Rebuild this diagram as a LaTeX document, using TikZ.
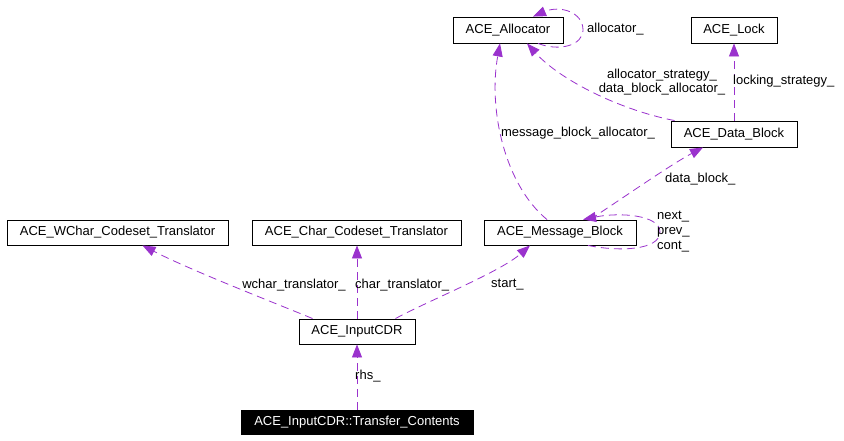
\documentclass[tikz,border=0pt]{standalone}
\usepackage{fontspec}
\setmainfont{Liberation Sans}
\usetikzlibrary{arrows.meta}
\definecolor{edgecol}{HTML}{9A32CD}
\begin{document}
\begin{tikzpicture}[x=1pt,y=-1pt,
  font=\fontsize{13}{15}\selectfont,
  cls/.style={draw=black,line width=0.9pt,fill=white,inner sep=0pt,minimum height=25pt},
  edge/.style={draw=edgecol,line width=0.8pt,dash pattern=on 8pt off 5pt,-{Triangle[length=13pt,width=10pt,fill=edgecol]}},
  lbl/.style={inner sep=0pt,text=black}]
\useasboundingbox (0,0) rectangle (844,441);
\fill[white] (0,0) rectangle (844,441);
% nodes
\node[cls,minimum width=110pt,minimum height=26pt] (alloc) at (508,30) {ACE\_Allocator};
\node[cls,minimum width=86pt,minimum height=26pt] (lock) at (734,30) {ACE\_Lock};
\node[cls,minimum width=126pt,minimum height=26pt] (datab) at (734,134) {ACE\_Data\_Block};
\node[cls,minimum width=152pt] (msg) at (560,232.5) {ACE\_Message\_Block};
\node[cls,minimum width=221pt] (wchar) at (117.5,232.5) {ACE\_WChar\_Codeset\_Translator};
\node[cls,minimum width=209pt] (char) at (356.5,232.5) {ACE\_Char\_Codeset\_Translator};
\node[cls,minimum width=116pt] (input) at (357,331.5) {ACE\_InputCDR};
\node[cls,fill=black,text=white,minimum width=232pt,minimum height=24pt] (tc) at (357,422) {ACE\_InputCDR::Transfer\_Contents};
% edges
\draw[edge] (tc.north) -- (input.south);
\draw[edge] ([xshift=14pt]input.north west) .. controls (275,303) and (190,270) .. ([xshift=25pt]wchar.south);
\draw[edge] (input.north) -- (input.north |- char.south);
\draw[edge] ([xshift=-20pt]input.north east) .. controls (430,300) and (500,272) .. ([xshift=-30pt]msg.south);
\draw[edge] ([xshift=-13pt]msg.north) .. controls (505,185) and (488,110) .. ([xshift=-8pt]alloc.south);
\draw[edge] ([xshift=4pt]datab.north west) .. controls (620,110) and (560,80) .. ([xshift=19pt]alloc.south);
\draw[edge] (datab.north) -- (lock.south);
\draw[edge] ([xshift=30pt]msg.north) .. controls (620,200) and (670,165) .. ([xshift=-31pt]datab.south);
\draw[edge] ([xshift=28pt]msg.south) .. controls (620,252) and (660,250) .. (660,232) .. controls (660,215) and (620,212) .. ([xshift=23pt]msg.north);
\draw[edge] ([xshift=30pt]alloc.south) .. controls (560,52) and (583,45) .. (583,30) .. controls (583,12) and (560,5) .. ([xshift=25pt]alloc.north);
% labels
\node[lbl,anchor=west] (l1) at (355,376) {rhs\_};
\node[lbl] (l2) at (294,285) {wchar\_translator\_};
\node[lbl,anchor=west] (l3) at (355,285) {char\_translator\_};
\node[lbl,anchor=west] (l4) at (491,285) {start\_};
\node[lbl] (l5) at (578,133) {message\_block\_allocator\_};
\node[lbl,align=center,font=\fontsize{13}{13.5}\selectfont] (l6) at (662,82) {allocator\_strategy\_\\data\_block\_allocator\_};
\node[lbl,anchor=west] (l7) at (733,81) {locking\_strategy\_};
\node[lbl,anchor=west] (l8) at (665,179) {data\_block\_};
\node[lbl,align=left,anchor=west,font=\fontsize{13}{15}\selectfont] (l9) at (657,232) {next\_\\prev\_\\cont\_};
\node[lbl,anchor=west] (l10) at (587,29) {allocator\_};
\end{tikzpicture}
\end{document}
